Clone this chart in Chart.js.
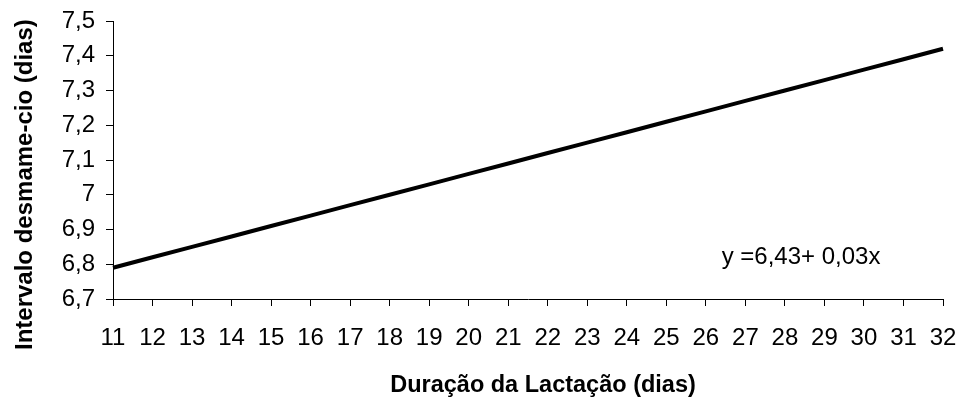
<!DOCTYPE html>
<html>
<head>
<meta charset="utf-8">
<script src="https://cdn.jsdelivr.net/npm/chart.js@4/dist/chart.umd.min.js"></script>
<style>
  html, body { margin: 0; padding: 0; background: #fff; }
  #wrap { width: 963px; height: 411px; position: relative; }
</style>
</head>
<body>
<div id="wrap"><canvas id="c" width="963" height="411"></canvas></div>
<script>
const categories = ['11','12','13','14','15','16','17','18','19','20','21','22','23','24','25','26','27','28','29','30','31','32'];
const intervalValues = [6.79,6.82,6.85,6.88,6.91,6.94,6.97,7.00,7.03,7.06,7.09,7.12,7.15,7.18,7.21,7.24,7.27,7.30,7.33,7.36,7.39,7.42];
const yMin = 6.7, yMax = 7.5, yStep = 0.1;
const xTitle = 'Duração da Lactação (dias)';
const yTitle = 'Intervalo desmame-cio (dias)';
const equationText = 'y =6,43+ 0,03x';
const equationAt = { x: 26.4, y: 6.82 };

const FONT = '"Liberation Sans", Arial, sans-serif';

const textPlugin = {
  id: 'texts',
  afterDraw(chart) {
    const ctx = chart.ctx;
    const xs = chart.scales.x, ys = chart.scales.y;
    const px = xs.left + (equationAt.x - 11) * (xs.right - xs.left) / (categories.length - 1);
    const py = ys.getPixelForValue(equationAt.y);
    ctx.save();
    ctx.fillStyle = '#000';
    // regression equation
    ctx.font = '24px ' + FONT;
    ctx.textAlign = 'left';
    ctx.textBaseline = 'middle';
    ctx.fillText(equationText, px, py);
    // x axis title
    ctx.font = 'bold 23.5px ' + FONT;
    ctx.textAlign = 'center';
    ctx.textBaseline = 'alphabetic';
    ctx.fillText(xTitle, 543, 392);
    // y axis title
    ctx.font = 'bold 24px ' + FONT;
    ctx.translate(32, 350);
    ctx.rotate(-Math.PI / 2);
    ctx.textAlign = 'left';
    ctx.textBaseline = 'alphabetic';
    ctx.fillText(yTitle, 0, 0);
    ctx.restore();
  }
};

new Chart(document.getElementById('c'), {
  type: 'line',
  data: {
    labels: categories,
    datasets: [{
      data: intervalValues,
      borderColor: '#000',
      borderWidth: 4,
      pointRadius: 0,
      tension: 0,
      fill: false
    }]
  },
  options: {
    responsive: false,
    animation: false,
    devicePixelRatio: 1,
    layout: { padding: { top: 21, right: 20, left: 0, bottom: 0 } },
    plugins: { legend: { display: false }, tooltip: { enabled: false } },
    scales: {
      x: {
        type: 'category',
        offset: false,
        grid: { display: true, drawOnChartArea: false, drawTicks: true, tickLength: 7, color: '#000', tickColor: '#000' },
        border: { display: true, color: '#000', width: 1 },
        ticks: { color: '#000', font: { family: FONT, size: 24 }, padding: 18, maxRotation: 0, autoSkip: false },
        afterFit(scale) { scale.height = 112; scale.paddingRight = 0; scale.paddingLeft = 0; }
      },
      y: {
        min: yMin, max: yMax,
        grid: { display: true, drawOnChartArea: false, drawTicks: true, tickLength: 7, color: '#000', tickColor: '#000' },
        border: { display: true, color: '#000', width: 1 },
        ticks: {
          stepSize: yStep, color: '#000', font: { family: FONT, size: 24 }, padding: 11,
          callback: (v) => (Math.round(v * 10) / 10).toString().replace('.', ',')
        },
        afterFit(scale) { scale.width = 113; scale.paddingTop = 0; scale.paddingBottom = 0; }
      }
    }
  },
  plugins: [textPlugin]
});
</script>
</body>
</html>
